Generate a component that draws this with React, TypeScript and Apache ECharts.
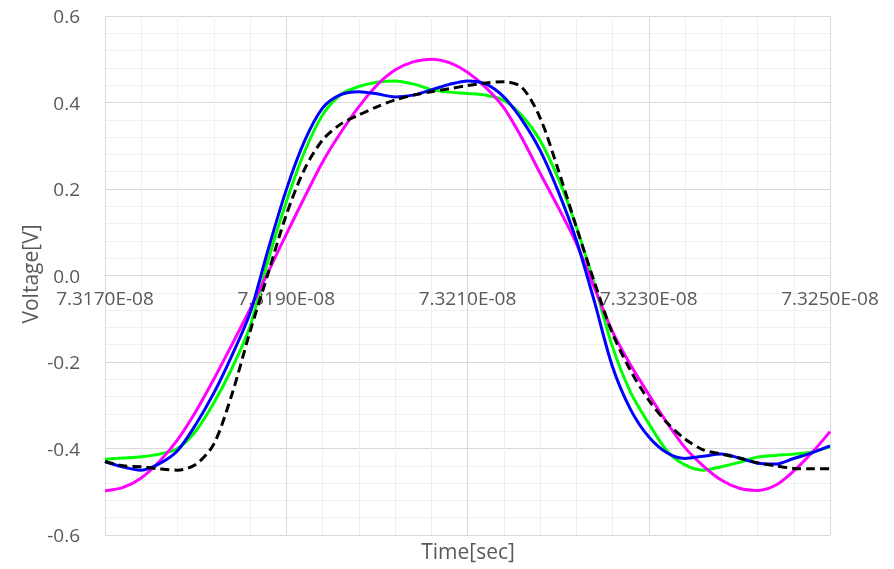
import React, { useEffect, useRef } from "react";
import * as echarts from "echarts";

// time offsets in picoseconds from 7.3170E-08 s (every 2 ps)
const T0_PS = 73170;
const timeOffsetsPs = [0, 2, 4, 6, 8, 10, 12, 14, 16, 18, 20, 22, 24, 26, 28, 30, 32, 34, 36, 38, 40, 42, 44, 46, 48, 50, 52, 54, 56, 58, 60, 62, 64, 66, 68, 70, 72, 74, 76, 78, 80];

const magentaV = [-0.498, -0.49, -0.468, -0.43, -0.38, -0.315, -0.24, -0.16, -0.078, 0.008, 0.095, 0.18, 0.262, 0.33, 0.39, 0.44, 0.475, 0.494, 0.5, 0.492, 0.47, 0.435, 0.388, 0.318, 0.237, 0.158, 0.075, -0.028, -0.13, -0.207, -0.275, -0.34, -0.398, -0.44, -0.473, -0.492, -0.497, -0.485, -0.452, -0.41, -0.361];
const greenV = [-0.425, -0.422, -0.419, -0.413, -0.4, -0.36, -0.295, -0.215, -0.118, 0.035, 0.17, 0.285, 0.371, 0.418, 0.437, 0.447, 0.45, 0.443, 0.43, 0.424, 0.421, 0.417, 0.405, 0.37, 0.313, 0.225, 0.113, -0.02, -0.165, -0.27, -0.342, -0.405, -0.438, -0.45, -0.442, -0.432, -0.42, -0.416, -0.413, -0.408, -0.396];
const blueV = [-0.43, -0.443, -0.45, -0.435, -0.405, -0.345, -0.272, -0.185, -0.087, 0.06, 0.198, 0.31, 0.387, 0.418, 0.425, 0.42, 0.413, 0.417, 0.429, 0.442, 0.45, 0.443, 0.413, 0.36, 0.29, 0.195, 0.082, -0.06, -0.211, -0.31, -0.373, -0.41, -0.423, -0.418, -0.413, -0.422, -0.434, -0.436, -0.423, -0.41, -0.394];
const blackV = [-0.43, -0.44, -0.442, -0.447, -0.45, -0.437, -0.39, -0.275, -0.13, 0.005, 0.14, 0.245, 0.313, 0.35, 0.371, 0.39, 0.406, 0.417, 0.425, 0.432, 0.439, 0.445, 0.448, 0.435, 0.365, 0.245, 0.113, -0.015, -0.134, -0.22, -0.288, -0.34, -0.378, -0.403, -0.413, -0.422, -0.433, -0.44, -0.446, -0.447, -0.447];

const xTickLabel = (v: number) => ((T0_PS + v) / 10000).toFixed(4) + "E-08";
const yTickLabel = (v: number) => v.toFixed(1);

const FONT = "'Open Sans', sans-serif";
const LABEL_COLOR = "#595959";

const pairs = (vals: number[]) => timeOffsetsPs.map((t, i) => [t, vals[i]]);

export default function App() {
  const ref = useRef<HTMLDivElement>(null);
  useEffect(() => {
    if (!ref.current) return;
    const chart = echarts.init(ref.current, undefined, { renderer: "svg" });
    const lineSeries = (name: string, vals: number[], color: string, type: any = "solid") => ({
      name,
      type: "line",
      data: pairs(vals),
      smooth: 0.3,
      showSymbol: false,
      symbol: "none",
      lineStyle: { color, width: 3, type },
    });
    chart.setOption({
      animation: false,
      grid: { left: 105, right: 64, top: 16, bottom: 34 },
      xAxis: {
        type: "value",
        min: 0,
        max: 80,
        interval: 20,
        z: 3,
        offset: -259.5,
        axisLine: { show: true, onZero: false, lineStyle: { color: "#d9d9d9", width: 1 } },
        axisTick: { show: false },
        axisLabel: { formatter: xTickLabel, color: LABEL_COLOR, fontFamily: FONT, fontSize: 19, margin: 13 },
        splitLine: { show: true, lineStyle: { color: "#d9d9d9", width: 1 } },
        minorTick: { show: false, splitNumber: 5 },
        minorSplitLine: { show: true, lineStyle: { color: "#f0f0f0", width: 1 } },
      },
      yAxis: {
        type: "value",
        min: -0.6,
        max: 0.6,
        interval: 0.2,
        axisLine: { show: true, lineStyle: { color: "#d9d9d9", width: 1 } },
        axisTick: { show: false },
        axisLabel: { formatter: yTickLabel, color: LABEL_COLOR, fontFamily: FONT, fontSize: 19, margin: 25 },
        splitLine: { show: true, lineStyle: { color: "#d9d9d9", width: 1 } },
        minorTick: { show: false, splitNumber: 5 },
        minorSplitLine: { show: true, lineStyle: { color: "#f0f0f0", width: 1 } },
      },
      graphic: [
        {
          type: "text",
          x: 30,
          y: 274,
          rotation: Math.PI / 2,
          style: { text: "Voltage[V]", fill: LABEL_COLOR, font: `21px ${FONT}`, align: "center", verticalAlign: "middle" },
        },
        {
          type: "text",
          x: 468,
          y: 551,
          style: { text: "Time[sec]", fill: LABEL_COLOR, font: `21px ${FONT}`, align: "center", verticalAlign: "middle" },
        },
      ],
      series: [
        lineSeries("green", greenV, "#00ff00"),
        lineSeries("magenta", magentaV, "#ff00ff"),
        lineSeries("blue", blueV, "#0000ff"),
        lineSeries("black", blackV, "#000000", [9, 5]),
      ],
    });
    return () => chart.dispose();
  }, []);
  return <div ref={ref} style={{ position: "fixed", left: 0, top: 0, width: 894, height: 569 }} />;
}
